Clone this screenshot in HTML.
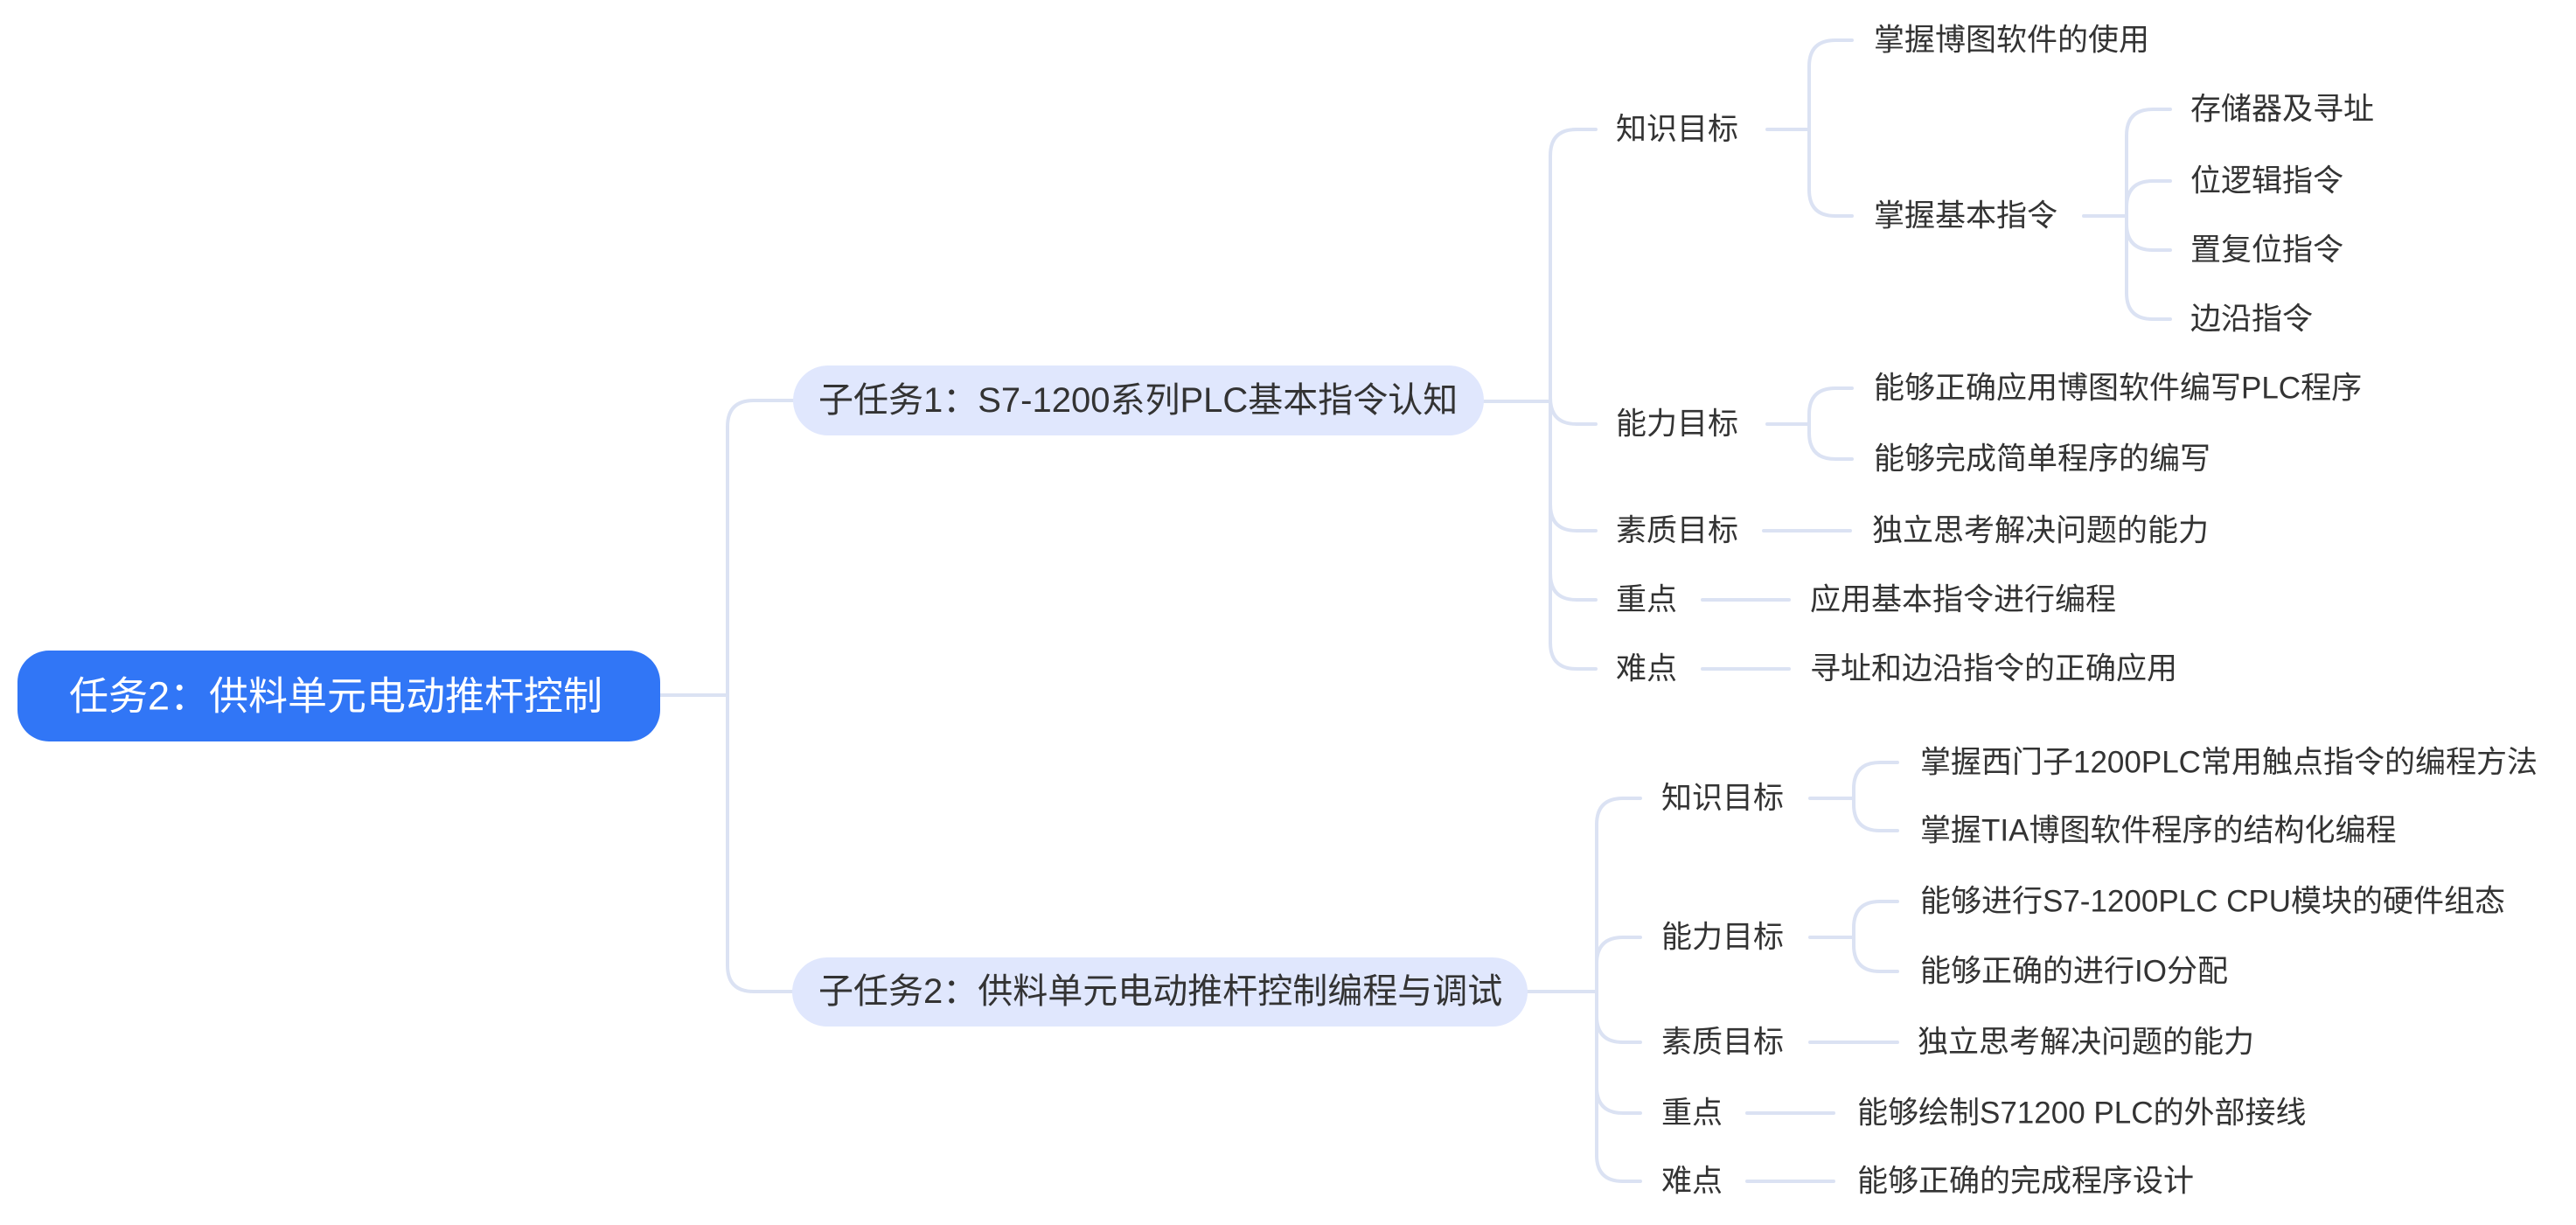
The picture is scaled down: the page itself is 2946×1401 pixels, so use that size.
<!DOCTYPE html>
<html><head><meta charset="utf-8"><style>
html,body{margin:0;padding:0;background:#fff;}
svg{display:block;}
text{font-family:"Liberation Sans","Noto Sans CJK SC",sans-serif;fill:#333;dominant-baseline:central;}
</style></head><body>
<svg width="2946" height="1401" viewBox="0 0 2946 1401" xmlns="http://www.w3.org/2000/svg">
<g fill="none" stroke="#dbe2f3" stroke-width="4" stroke-linecap="round">
<path d="M755 795 L832 795"/>
<path d="M832 795 L832 488 Q832 458 862 458 L907 458"/>
<path d="M832 795 L832 1104 Q832 1134 862 1134 L907 1134"/>
<path d="M1697 459 L1773 459"/>
<path d="M1773 459 L1773 178 Q1773 148 1803 148 L1825 148"/>
<path d="M1773 459 L1773 455 Q1773 485 1803 485 L1825 485"/>
<path d="M1773 459 L1773 577 Q1773 607 1803 607 L1825 607"/>
<path d="M1773 459 L1773 656 Q1773 686 1803 686 L1825 686"/>
<path d="M1773 459 L1773 735 Q1773 765 1803 765 L1825 765"/>
<path d="M2021 148 L2069 148"/>
<path d="M2069 148 L2069 76 Q2069 46 2099 46 L2118 46"/>
<path d="M2069 148 L2069 217 Q2069 247 2099 247 L2118 247"/>
<path d="M2383 247 L2432 247"/>
<path d="M2432 247 L2432 155 Q2432 125 2462 125 L2482 125"/>
<path d="M2432 247 L2432 237 Q2432 207 2462 207 L2482 207"/>
<path d="M2432 247 L2432 256 Q2432 286 2462 286 L2482 286"/>
<path d="M2432 247 L2432 335 Q2432 365 2462 365 L2482 365"/>
<path d="M2021 485 L2069 485"/>
<path d="M2069 485 L2069 474 Q2069 444 2099 444 L2118 444"/>
<path d="M2069 485 L2069 495 Q2069 525 2099 525 L2118 525"/>
<path d="M2017 607 L2116 607"/>
<path d="M1947 686 L2046 686"/>
<path d="M1947 765 L2046 765"/>
<path d="M1747 1134 L1826 1134"/>
<path d="M1826 1134 L1826 943 Q1826 913 1856 913 L1876 913"/>
<path d="M1826 1134 L1826 1102 Q1826 1072 1856 1072 L1876 1072"/>
<path d="M1826 1134 L1826 1162 Q1826 1192 1856 1192 L1876 1192"/>
<path d="M1826 1134 L1826 1243 Q1826 1273 1856 1273 L1876 1273"/>
<path d="M1826 1134 L1826 1321 Q1826 1351 1856 1351 L1876 1351"/>
<path d="M2070 913 L2120 913"/>
<path d="M2120 913 L2120 902 Q2120 872 2150 872 L2170 872"/>
<path d="M2120 913 L2120 920 Q2120 950 2150 950 L2170 950"/>
<path d="M2070 1072 L2120 1072"/>
<path d="M2120 1072 L2120 1061 Q2120 1031 2150 1031 L2170 1031"/>
<path d="M2120 1072 L2120 1081 Q2120 1111 2150 1111 L2170 1111"/>
<path d="M2070 1192 L2170 1192"/>
<path d="M1998 1273 L2097 1273"/>
<path d="M1998 1351 L2097 1351"/>
</g>
<rect x="20" y="744" width="735" height="104" rx="36" fill="#3176f6"/>
<text x="79" y="796" style="fill:#fff;font-size:45px">任务2：供料单元电动推杆控制</text>
<rect x="907" y="418" width="790" height="80" rx="40" fill="#e0e7fd"/>
<text x="936" y="458" style="font-size:40px">子任务1：S7-1200系列PLC基本指令认知</text>
<rect x="906" y="1095" width="841" height="79" rx="40" fill="#e0e7fd"/>
<text x="936" y="1134" style="font-size:40px">子任务2：供料单元电动推杆控制编程与调试</text>
<g style="font-size:35px">
<text x="1848" y="148">知识目标</text>
<text x="1848" y="485">能力目标</text>
<text x="1848" y="607">素质目标</text>
<text x="1848" y="686">重点</text>
<text x="1848" y="765">难点</text>
<text x="2143" y="46">掌握博图软件的使用</text>
<text x="2143" y="247">掌握基本指令</text>
<text x="2505" y="125">存储器及寻址</text>
<text x="2505" y="207">位逻辑指令</text>
<text x="2505" y="286">置复位指令</text>
<text x="2505" y="365">边沿指令</text>
<text x="2143" y="444">能够正确应用博图软件编写PLC程序</text>
<text x="2143" y="525">能够完成简单程序的编写</text>
<text x="2141" y="607">独立思考解决问题的能力</text>
<text x="2070" y="686">应用基本指令进行编程</text>
<text x="2070" y="765">寻址和边沿指令的正确应用</text>
<text x="1900" y="913">知识目标</text>
<text x="1900" y="1072">能力目标</text>
<text x="1900" y="1192">素质目标</text>
<text x="1900" y="1273">重点</text>
<text x="1900" y="1351">难点</text>
<text x="2196" y="872">掌握西门子1200PLC常用触点指令的编程方法</text>
<text x="2196" y="950">掌握TIA博图软件程序的结构化编程</text>
<text x="2196" y="1031">能够进行S7-1200PLC CPU模块的硬件组态</text>
<text x="2196" y="1111">能够正确的进行IO分配</text>
<text x="2193" y="1192">独立思考解决问题的能力</text>
<text x="2124" y="1273">能够绘制S71200 PLC的外部接线</text>
<text x="2124" y="1351">能够正确的完成程序设计</text>
</g>
</svg>
</body></html>
